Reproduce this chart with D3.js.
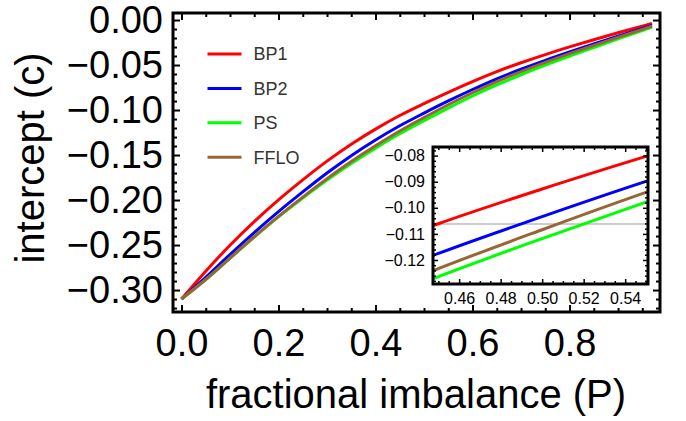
<!DOCTYPE html>
<html>
<head>
<meta charset="utf-8">
<script src="https://cdn.jsdelivr.net/npm/d3@7"></script>
<style>
  body { margin: 0; background: #fff; }
  text { font-family: "Liberation Sans", Arial, Helvetica, sans-serif; }
</style>
</head>
<body>
<svg id="chart" width="686" height="421"></svg>
<script>
// Fractional imbalance P and intercept c for each pairing state
const P    = [0, 0.05, 0.10, 0.15, 0.20, 0.25, 0.30, 0.35, 0.40, 0.45, 0.50, 0.55, 0.60, 0.65, 0.70, 0.75, 0.80, 0.85, 0.90, 0.95, 0.97];
const bp1  = [-0.310, -0.2790, -0.2503, -0.2240, -0.1998, -0.1776, -0.1568, -0.1380, -0.1212, -0.1061, -0.0928, -0.0803, -0.0684, -0.0573, -0.0475, -0.0384, -0.0299, -0.0219, -0.0142, -0.0068, -0.0038];
const bp2  = [-0.310, -0.2858, -0.2605, -0.2361, -0.2129, -0.1910, -0.1700, -0.1507, -0.1333, -0.1175, -0.1034, -0.0899, -0.0772, -0.0653, -0.0547, -0.0448, -0.0355, -0.0266, -0.0179, -0.0094, -0.0059];
const ps   = [-0.310, -0.2885, -0.2648, -0.2412, -0.2188, -0.1979, -0.1779, -0.1594, -0.1424, -0.1264, -0.1118, -0.0978, -0.0844, -0.0721, -0.0608, -0.0502, -0.0401, -0.0305, -0.0210, -0.0116, -0.0078];
const fflo = [-0.310, -0.2883, -0.2645, -0.2408, -0.2181, -0.1967, -0.1762, -0.1572, -0.1397, -0.1233, -0.1084, -0.0941, -0.0808, -0.0684, -0.0574, -0.0471, -0.0374, -0.0282, -0.0192, -0.0104, -0.0068];

const seriesNames  = ["BP1", "BP2", "PS", "FFLO"];
const seriesValues = [bp1, bp2, ps, fflo];
const seriesColors = ["#ff0000", "#0000ff", "#00ff00", "#996633"];

// Main axes ticks
const xMajorTicks = [0, 0.2, 0.4, 0.6, 0.8];
const xMinorTicks = [0.05, 0.1, 0.15, 0.25, 0.3, 0.35, 0.45, 0.5, 0.55, 0.65, 0.7, 0.75, 0.85, 0.9, 0.95];
const yMajorTicks = [0, -0.05, -0.10, -0.15, -0.20, -0.25, -0.30];
const yMinorTicks = [-0.01, -0.02, -0.03, -0.04, -0.06, -0.07, -0.08, -0.09, -0.11, -0.12, -0.13, -0.14,
                     -0.16, -0.17, -0.18, -0.19, -0.21, -0.22, -0.23, -0.24, -0.26, -0.27, -0.28, -0.29, -0.31, -0.32];

// Inset (zoom around P = 0.5)
const insetXTicks = [0.46, 0.48, 0.50, 0.52, 0.54];
const insetXMinor = [0.45, 0.455, 0.465, 0.47, 0.475, 0.485, 0.49, 0.495, 0.505, 0.51, 0.515, 0.525, 0.53, 0.535, 0.545, 0.55];
const insetYTicks = [-0.08, -0.09, -0.10, -0.11, -0.12];
const insetYMinor = [-0.078, -0.082, -0.084, -0.086, -0.088, -0.092, -0.094, -0.096, -0.098, -0.102, -0.104, -0.106, -0.108,
                     -0.112, -0.114, -0.116, -0.118, -0.122, -0.124, -0.126, -0.128];
const refLevel = -0.1062;

const xTitle = "fractional imbalance (P)";
const yTitle = "intercept (c)";

// ---- layout ----
const svg = d3.select("#chart");
svg.append("rect").attr("width", 686).attr("height", 421).attr("fill", "#fff");

const frame = { left: 173, top: 13, right: 660, bottom: 312 };
const x = d3.scaleLinear().domain([-0.0175, 0.9865]).range([frame.left, frame.right]);
const y = d3.scaleLinear().domain([-0.3244, 0.0078]).range([frame.bottom, frame.top]);

const fmt2 = d3.format(".2f");
const fmt1 = d3.format(".1f");

function styleAxis(g, fontSize, tickWidth) {
  g.select(".domain").remove();
  g.selectAll(".tick line").attr("stroke", "#000").attr("stroke-width", tickWidth);
  g.selectAll("text").attr("font-size", fontSize).attr("fill", "#000")
    .attr("font-family", '"Liberation Sans", Arial, Helvetica, sans-serif');
}

// draws major + minor inward ticks on one side of a frame
function frameTicks(axisFn, scale, pos, isHorizontal, major, minor, majLen, minLen, pad, fmt, fontSize, tickWidth) {
  const t = isHorizontal ? `translate(0,${pos})` : `translate(${pos},0)`;
  const gMaj = svg.append("g").attr("transform", t)
    .call(axisFn(scale).tickValues(major).tickSize(-majLen).tickPadding(pad).tickFormat(fmt || ""));
  styleAxis(gMaj, fontSize, tickWidth);
  const gMin = svg.append("g").attr("transform", t)
    .call(axisFn(scale).tickValues(minor).tickSize(-minLen).tickFormat(""));
  styleAxis(gMin, 10, tickWidth);
}

const defs = svg.append("defs");
defs.append("clipPath").attr("id", "mainClip")
  .append("rect").attr("x", frame.left).attr("y", frame.top)
  .attr("width", frame.right - frame.left).attr("height", frame.bottom - frame.top);

// curves
const rows = P.map((p, i) => ({ p, i }));
const mainLine = vals => d3.line().curve(d3.curveMonotoneX)
  .x(d => x(d.p)).y(d => y(vals[d.i]));

const curves = svg.append("g").attr("clip-path", "url(#mainClip)");
seriesValues.forEach((vals, k) => {
  curves.append("path").datum(rows)
    .attr("fill", "none").attr("stroke", seriesColors[k]).attr("stroke-width", 3)
    .attr("stroke-linejoin", "round").attr("d", mainLine(vals));
});

// ticks (inward, mirrored on all four sides)
frameTicks(d3.axisBottom, x, frame.bottom, true, xMajorTicks, xMinorTicks, 7, 4, 17, fmt1, 38, 2);
frameTicks(d3.axisTop, x, frame.top, true, xMajorTicks, xMinorTicks, 7, 4, 0, null, 10, 2);
frameTicks(d3.axisLeft, y, frame.left, false, yMajorTicks, yMinorTicks, 7, 4, 10, fmt2, 38, 2);
frameTicks(d3.axisRight, y, frame.right, false, yMajorTicks, yMinorTicks, 7, 4, 0, null, 10, 2);

// frame
svg.append("rect").attr("x", frame.left).attr("y", frame.top)
  .attr("width", frame.right - frame.left).attr("height", frame.bottom - frame.top)
  .attr("fill", "none").attr("stroke", "#000").attr("stroke-width", 3);

// axis titles
svg.append("text").attr("x", 416).attr("y", 408)
  .attr("text-anchor", "middle").attr("font-size", 40).attr("fill", "#000").text(xTitle);
svg.append("text").attr("transform", "translate(44,158) rotate(-90)")
  .attr("text-anchor", "middle").attr("font-size", 40).attr("fill", "#000").text(yTitle);

// legend
const legend = svg.append("g").attr("transform", "translate(207.5,54)");
seriesNames.forEach((name, k) => {
  const row = legend.append("g").attr("transform", `translate(0,${k * 34.4})`);
  row.append("line").attr("x1", 0).attr("x2", 34).attr("y1", 0).attr("y2", 0)
    .attr("stroke", seriesColors[k]).attr("stroke-width", 3);
  row.append("text").attr("x", 46).attr("y", 0).attr("dy", "0.35em")
    .attr("font-size", 18).attr("fill", "#333").text(name);
});

// ---- inset ----
const inset = { left: 433, top: 147, right: 648, bottom: 284 };
const xi = d3.scaleLinear().domain([0.4474, 0.5510]).range([inset.left, inset.right]);
const yi = d3.scaleLinear().domain([-0.1292, -0.0767]).range([inset.bottom, inset.top]);

svg.append("rect").attr("x", inset.left).attr("y", inset.top)
  .attr("width", inset.right - inset.left).attr("height", inset.bottom - inset.top)
  .attr("fill", "#fff");

defs.append("clipPath").attr("id", "insetClip")
  .append("rect").attr("x", inset.left).attr("y", inset.top)
  .attr("width", inset.right - inset.left).attr("height", inset.bottom - inset.top);

const insetG = svg.append("g").attr("clip-path", "url(#insetClip)");
insetG.append("line")
  .attr("x1", xi(xi.domain()[0])).attr("x2", xi(xi.domain()[1]))
  .attr("y1", yi(refLevel)).attr("y2", yi(refLevel))
  .attr("stroke", "#999").attr("stroke-width", 1.2);

const insetLine = vals => d3.line().curve(d3.curveMonotoneX)
  .x(d => xi(d.p)).y(d => yi(vals[d.i]));
seriesValues.forEach((vals, k) => {
  insetG.append("path").datum(rows)
    .attr("fill", "none").attr("stroke", seriesColors[k]).attr("stroke-width", 3)
    .attr("d", insetLine(vals));
});

frameTicks(d3.axisBottom, xi, inset.bottom, true, insetXTicks, insetXMinor, 5, 3, 9, fmt2, 16, 1.5);
frameTicks(d3.axisTop, xi, inset.top, true, insetXTicks, insetXMinor, 5, 3, 0, null, 10, 1.5);
frameTicks(d3.axisLeft, yi, inset.left, false, insetYTicks, insetYMinor, 5, 3, 8, fmt2, 16, 1.5);
frameTicks(d3.axisRight, yi, inset.right, false, insetYTicks, insetYMinor, 5, 3, 0, null, 10, 1.5);

svg.append("rect").attr("x", inset.left).attr("y", inset.top)
  .attr("width", inset.right - inset.left).attr("height", inset.bottom - inset.top)
  .attr("fill", "none").attr("stroke", "#000").attr("stroke-width", 3);
</script>
</body>
</html>
